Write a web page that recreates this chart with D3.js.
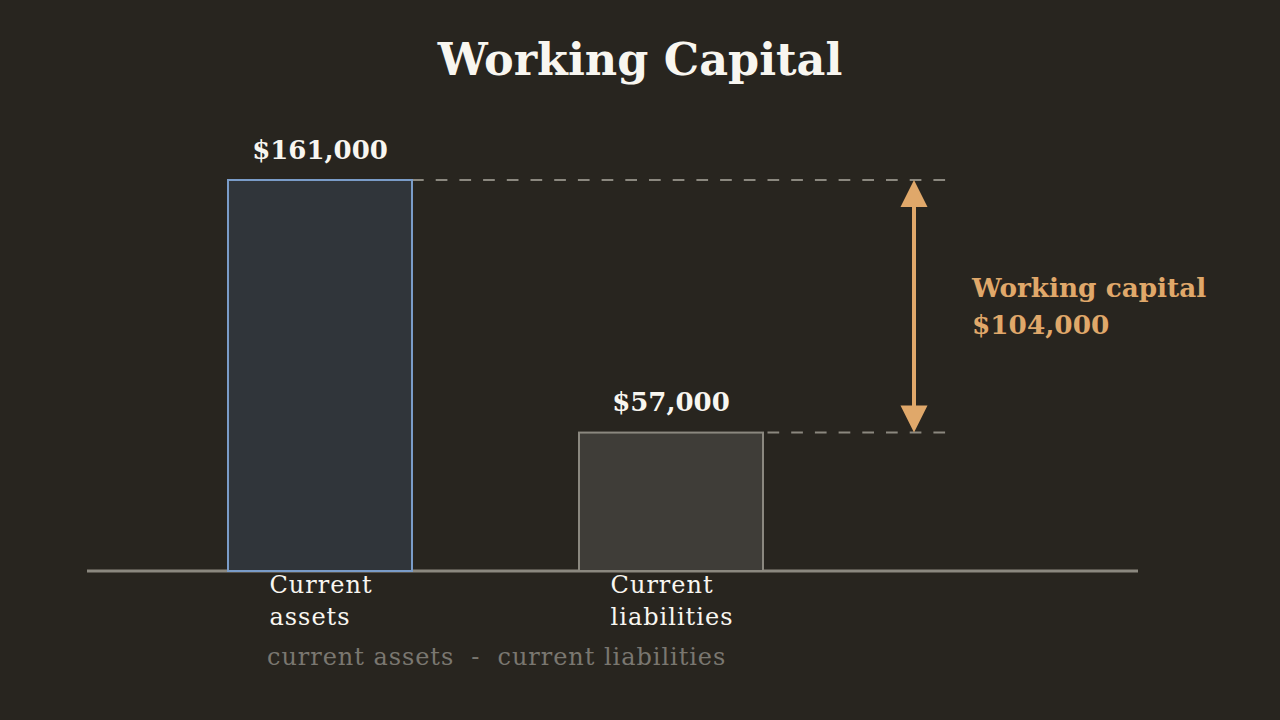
<!DOCTYPE html>
<html><head><meta charset="utf-8">
<script src="https://cdn.jsdelivr.net/npm/d3@7"></script>
<style>html,body{margin:0;padding:0;background:#28251f;}svg{display:block;}</style>
</head><body>
<svg id="c" width="1280" height="720"></svg>
<script>
const categories = ["Current\nassets", "Current\nliabilities"];
const values = [161000, 57000];
const valueLabels = ["$161,000", "$57,000"];
const title = "Working Capital";
const differenceLabel = ["Working capital", "$104,000"];
const footerText = "current assets  -  current liabilities";

const W = 1280, H = 720;
const svg = d3.select("#c");
svg.append("rect").attr("width", W).attr("height", H).attr("fill", "#28251f");

const baseY = 571;
const xPos = d3.scalePoint().domain(categories).range([320, 671]);
const barW = 184;
const y = d3.scaleLinear().domain([0, 161000]).range([baseY, 180]);

const fills = ["#30353a", "#3f3d38"];
const strokes = ["#7a9cc8", "#8b887f"];
const serif = "'DejaVu Serif', serif";
const white = "#f8f6f0";

svg.append("text").attr("x", 640).attr("y", 75).attr("text-anchor", "middle")
  .attr("font-family", serif).attr("font-weight", "bold").attr("font-size", 44.5)
  .attr("fill", white).text(title);

// dashed guide lines (shared dash phase)
const guideStart = 412, guideEnd = 946, period = 23.7;
values.forEach((v, i) => {
  const x1 = xPos(categories[i]) + barW / 2;
  svg.append("line").attr("x1", x1).attr("x2", guideEnd)
    .attr("y1", y(v)).attr("y2", y(v))
    .attr("stroke", "#8b887f").attr("stroke-width", 2)
    .attr("stroke-dasharray", "11.7,12")
    .attr("stroke-dashoffset", (x1 - guideStart) % period);
});

// baseline
svg.append("line").attr("x1", 87).attr("x2", 1138).attr("y1", baseY).attr("y2", baseY)
  .attr("stroke", "#8b887f").attr("stroke-width", 3);

svg.selectAll("rect.bar").data(values).join("rect").attr("class", "bar")
  .attr("x", (d, i) => xPos(categories[i]) - barW / 2)
  .attr("y", d => y(d))
  .attr("width", barW)
  .attr("height", d => baseY - y(d))
  .attr("fill", (d, i) => fills[i])
  .attr("stroke", (d, i) => strokes[i]).attr("stroke-width", 2);

// value labels
svg.selectAll("text.val").data(values).join("text").attr("class", "val")
  .attr("x", (d, i) => xPos(categories[i]))
  .attr("y", d => y(d) - 21.5)
  .attr("text-anchor", "middle").attr("font-family", serif).attr("font-weight", "bold")
  .attr("font-size", 26).attr("fill", white)
  .text((d, i) => valueLabels[i]);

// category labels
categories.forEach((c, i) => {
  const lines = c.split("\n");
  const t = svg.append("text").attr("font-family", serif).attr("font-size", 24)
    .attr("letter-spacing", 1).attr("fill", white);
  lines.forEach((l, j) => {
    t.append("tspan").attr("x", 0).attr("y", 593 + j * 32).text(l);
  });
  const bw = t.node().getBBox().width;
  t.attr("transform", `translate(${xPos(c) - bw / 2 + 1},0)`);
});

// footer
svg.append("text").attr("x", 267).attr("y", 665).attr("font-family", serif)
  .attr("font-size", 24).attr("letter-spacing", 0.95).attr("fill", "#7a7770")
  .style("white-space", "pre").text(footerText);

// arrow
const ax = 914, orange = "#e0a86a";
const y1 = y(values[0]), y2 = y(values[1]);
svg.append("line").attr("x1", ax).attr("x2", ax).attr("y1", y1 + 20).attr("y2", y2 - 20)
  .attr("stroke", orange).attr("stroke-width", 4);
svg.append("path").attr("d", `M${ax},${y1} L${ax + 13.5},${y1 + 27} L${ax - 13.5},${y1 + 27} Z`).attr("fill", orange);
svg.append("path").attr("d", `M${ax},${y2} L${ax + 13.5},${y2 - 27} L${ax - 13.5},${y2 - 27} Z`).attr("fill", orange);

const dl = svg.append("text").attr("font-family", serif).attr("font-weight", "bold")
  .attr("font-size", 26.3).attr("fill", orange);
differenceLabel.forEach((l, j) => dl.append("tspan").attr("x", 972).attr("y", 296.5 + j * 37).text(l));
</script>
</body></html>
